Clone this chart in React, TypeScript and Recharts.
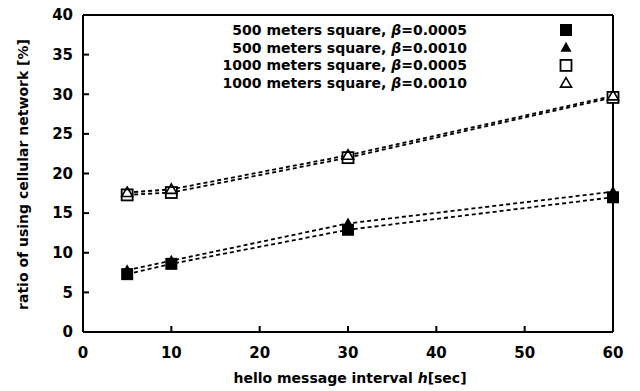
import React from "react";
import { LineChart, Line, XAxis, YAxis, Customized } from "recharts";

const xValues = [5, 10, 30, 60];
const s500b5 = [7.3, 8.6, 12.9, 17.0];
const s500b10 = [7.8, 9.0, 13.7, 17.7];
const s1000b5 = [17.3, 17.6, 22.0, 29.6];
const s1000b10 = [17.6, 18.0, 22.3, 29.8];
const xTicks = [0, 10, 20, 30, 40, 50, 60];
const yTicks = [0, 5, 10, 15, 20, 25, 30, 35, 40];
const legendSizes = ["500", "500", "1000", "1000"];
const legendBetas = ["0.0005", "0.0010", "0.0005", "0.0010"];
const seriesKeys = ["a", "b", "c", "d"];
const markerKinds = ["filledSquare", "filledTriangle", "openSquare", "openTriangle"];

const data = xValues.map((x, i) => ({
  x,
  a: s500b5[i],
  b: s500b10[i],
  c: s1000b5[i],
  d: s1000b10[i],
}));

const FONT = "'DejaVu Sans', sans-serif";

function Marker({ kind, cx, cy }: { kind: string; cx: number; cy: number }) {
  if (kind === "filledSquare") {
    return <rect x={cx - 6} y={cy - 6} width={12} height={12} fill="#000" />;
  }
  if (kind === "openSquare") {
    return (
      <rect x={cx - 5.5} y={cy - 5.5} width={11} height={11} fill="#fff" stroke="#000" strokeWidth={1.8} />
    );
  }
  if (kind === "filledTriangle") {
    return <polygon points={`${cx},${cy - 6} ${cx + 5.5},${cy + 4} ${cx - 5.5},${cy + 4}`} fill="#000" />;
  }
  return (
    <polygon
      points={`${cx},${cy - 5.5} ${cx + 5.5},${cy + 4} ${cx - 5.5},${cy + 4}`}
      fill="none"
      stroke="#000"
      strokeWidth={1.6}
    />
  );
}

const makeDot = (kind: string) => (props: any) => {
  const { cx, cy, index } = props;
  return (
    <g key={`${kind}-${index}`}>
      <Marker kind={kind} cx={cx} cy={cy} />
    </g>
  );
};

const LegendBlock = () => {
  return (
    <g fontFamily={FONT} fontWeight="bold" fontSize={14} fill="#000">
      {legendSizes.map((s, i) => {
        const cy = 30 + i * 17.7;
        return (
          <g key={i}>
            <text x={467} y={cy + 5} textAnchor="end">
              {`${s} meters square, `}
              <tspan fontStyle="italic">β</tspan>
              {`=${legendBetas[i]}`}
            </text>
            <Marker kind={markerKinds[i]} cx={566} cy={cy} />
          </g>
        );
      })}
    </g>
  );
};

const XLabel = (props: any) => {
  const vb = props.viewBox || {};
  const cx = vb.x + vb.width / 2;
  return (
    <text x={cx + 2} y={383} textAnchor="middle" fontFamily={FONT} fontWeight="bold" fontSize={14} fill="#000">
      {"hello message interval "}
      <tspan fontStyle="italic">h</tspan>
      {"[sec]"}
    </text>
  );
};

const YLabel = (props: any) => {
  const vb = props.viewBox || {};
  const cy = vb.y + vb.height / 2 + 1;
  const cx = 28;
  return (
    <text
      x={cx}
      y={cy}
      textAnchor="middle"
      transform={`rotate(-90 ${cx} ${cy})`}
      fontFamily={FONT}
      fontWeight="bold"
      fontSize={14}
      fill="#000"
    >
      ratio of using cellular network [%]
    </text>
  );
};

export default function App() {
  const tickStyle = { fontFamily: FONT, fontWeight: "bold", fontSize: 15, fill: "#000" };
  return (
    <div style={{ position: "absolute", left: 0, top: 0, width: 640, height: 391, background: "#fff" }}>
      <LineChart width={640} height={391} data={data} margin={{ top: 15, right: 27, bottom: 0, left: 0 }}>
        <XAxis
          dataKey="x"
          type="number"
          domain={[0, 60]}
          ticks={xTicks}
          height={59}
          tickSize={-6}
          tickMargin={21}
          tick={tickStyle}
          axisLine={{ stroke: "#000", strokeWidth: 2 }}
          tickLine={{ stroke: "#000", strokeWidth: 2 }}
          label={<XLabel />}
        />
        <XAxis
          xAxisId="top"
          orientation="top"
          mirror
          type="number"
          domain={[0, 60]}
          ticks={xTicks}
          tickSize={6}
          tick={false}
          axisLine={{ stroke: "#000", strokeWidth: 2 }}
          tickLine={{ stroke: "#000", strokeWidth: 2 }}
        />
        <YAxis
          type="number"
          domain={[0, 40]}
          ticks={yTicks}
          width={83}
          tickSize={-6}
          tickMargin={16}
          tick={tickStyle}
          axisLine={{ stroke: "#000", strokeWidth: 2 }}
          tickLine={{ stroke: "#000", strokeWidth: 2 }}
          label={<YLabel />}
        />
        <YAxis
          yAxisId="right"
          orientation="right"
          mirror
          type="number"
          domain={[0, 40]}
          ticks={yTicks}
          tickSize={6}
          tick={false}
          axisLine={{ stroke: "#000", strokeWidth: 2 }}
          tickLine={{ stroke: "#000", strokeWidth: 2 }}
        />
        {seriesKeys.map((k, i) => (
          <Line
            key={k}
            dataKey={k}
            stroke="#000"
            strokeWidth={1.8}
            strokeDasharray="4 3"
            dot={makeDot(markerKinds[i])}
            activeDot={false}
            isAnimationActive={false}
          />
        ))}
        <Customized component={LegendBlock} />
      </LineChart>
    </div>
  );
}
